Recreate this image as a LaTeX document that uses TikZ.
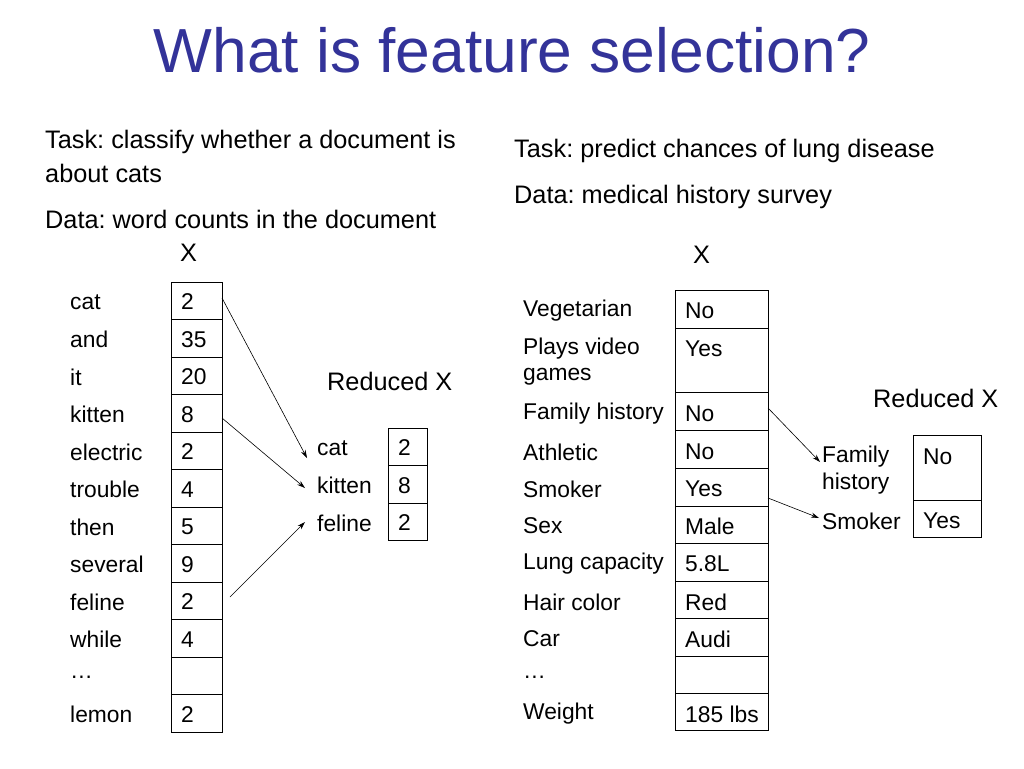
\documentclass[tikz,border=0pt]{standalone}
\usepackage{fontspec}
\setmainfont{Liberation Sans}
\usetikzlibrary{arrows.meta}
\begin{document}
\frenchspacing
\begin{tikzpicture}[x=1pt,y=-1pt,
  txt/.style={anchor=west,inner sep=0pt,font=\fontsize{22.8}{26}\selectfont},
  big/.style={anchor=west,inner sep=0pt,font=\fontsize{25.3}{29}\selectfont},
  cell/.style={draw,line width=0.9pt},
  arr/.style={-{Stealth[length=8pt,width=5pt]},line width=0.6pt}]
\useasboundingbox (0,0) rectangle (1024,768);
\node[font=\fontsize{62.3}{68}\selectfont,text={rgb,255:red,51;green,51;blue,153}] (title) at (512,50) {What is feature selection?};
\node[big] (t1) at (45,142) {Task: classify whether a document is};
\node[big] (t2) at (45,173) {about cats};
\node[big] (t3) at (45,219) {Data: word counts in the document};
\node[big] (x1) at (180,253) {X};
\node[big] (t4) at (514,151) {Task: predict chances of lung disease};
\node[big] (t5) at (514,197) {Data: medical history survey};
\node[big] (x2) at (693,255) {X};
% left table
\foreach \i/\w/\v in {0/cat/2,1/and/35,2/it/20,3/kitten/8,4/electric/2,5/trouble/4,6/then/5,7/several/9,8/feline/2,9/while/4,10/\dots/,11/lemon/2}{
  \draw[cell] (171,282+37.5*\i) rectangle (222,282+37.5*\i+37.5);
  \node[txt] (lw\i) at (70,302+37.5*\i) {\w};
  \node[txt] (lv\i) at (181,302+37.5*\i) {\v};
}
\node[big] (rxl) at (327,381) {Reduced X};
\foreach \i/\w/\v in {0/cat/2,1/kitten/8,2/feline/2}{
  \draw[cell] (388,428+37.5*\i) rectangle (427,428+37.5*\i+37.5);
  \node[txt] (rw\i) at (317,448+37.5*\i) {\w};
  \node[txt] (rv\i) at (398,448+37.5*\i) {\v};
}
\coordinate (la) at (222,298); \coordinate (lb) at (307,458);
\coordinate (lc) at (222,418); \coordinate (ld) at (305,488);
\coordinate (le) at (230,597); \coordinate (lf) at (305,522);
\draw[arr] (la) -- (lb);
\draw[arr] (lc) -- (ld);
\draw[arr] (le) -- (lf);
% right table
\foreach \a/\b in {290/328,328/392,392/430,430/468,468/506,506/543,543/581,581/618,618/656,656/693,693/730}
  \draw[cell] (675,\a) rectangle (768,\b);
\foreach \y/\w/\v in {311/Vegetarian/No,349/Plays video/Yes,414/Family history/No,452/Athletic/No,489/Smoker/Yes,526/Sex/Male,564/Lung capacity/5.8L,602/Hair color/Red,639/Car/Audi,677/\dots/,714/Weight/185 lbs}
  \node[txt] at (523,\y) {\w};
\foreach \y/\v in {311/No,349/Yes,414/No,452/No,489/Yes,526/Male,564/5.8L,602/Red,639/Audi,714/185 lbs}
  \node[txt] at (685,\y) {\v};
\node[txt] (games) at (523,377) {games};
\node[big] (rxr) at (873,398) {Reduced X};
\draw[cell] (913,435) rectangle (981,500);
\draw[cell] (913,500) rectangle (981,537);
\node[txt] (fh1) at (822,457) {Family};
\node[txt] (fh2) at (822,484) {history};
\node[txt] (sm) at (822,521) {Smoker};
\node[txt] (no) at (923,457) {No};
\node[txt] (yes) at (923,521) {Yes};
\coordinate (ra) at (768,408); \coordinate (rb) at (820,462);
\coordinate (rc) at (768,498); \coordinate (rd) at (819,518);
\draw[arr] (ra) -- (rb);
\draw[arr] (rc) -- (rd);
\end{tikzpicture}
\end{document}
